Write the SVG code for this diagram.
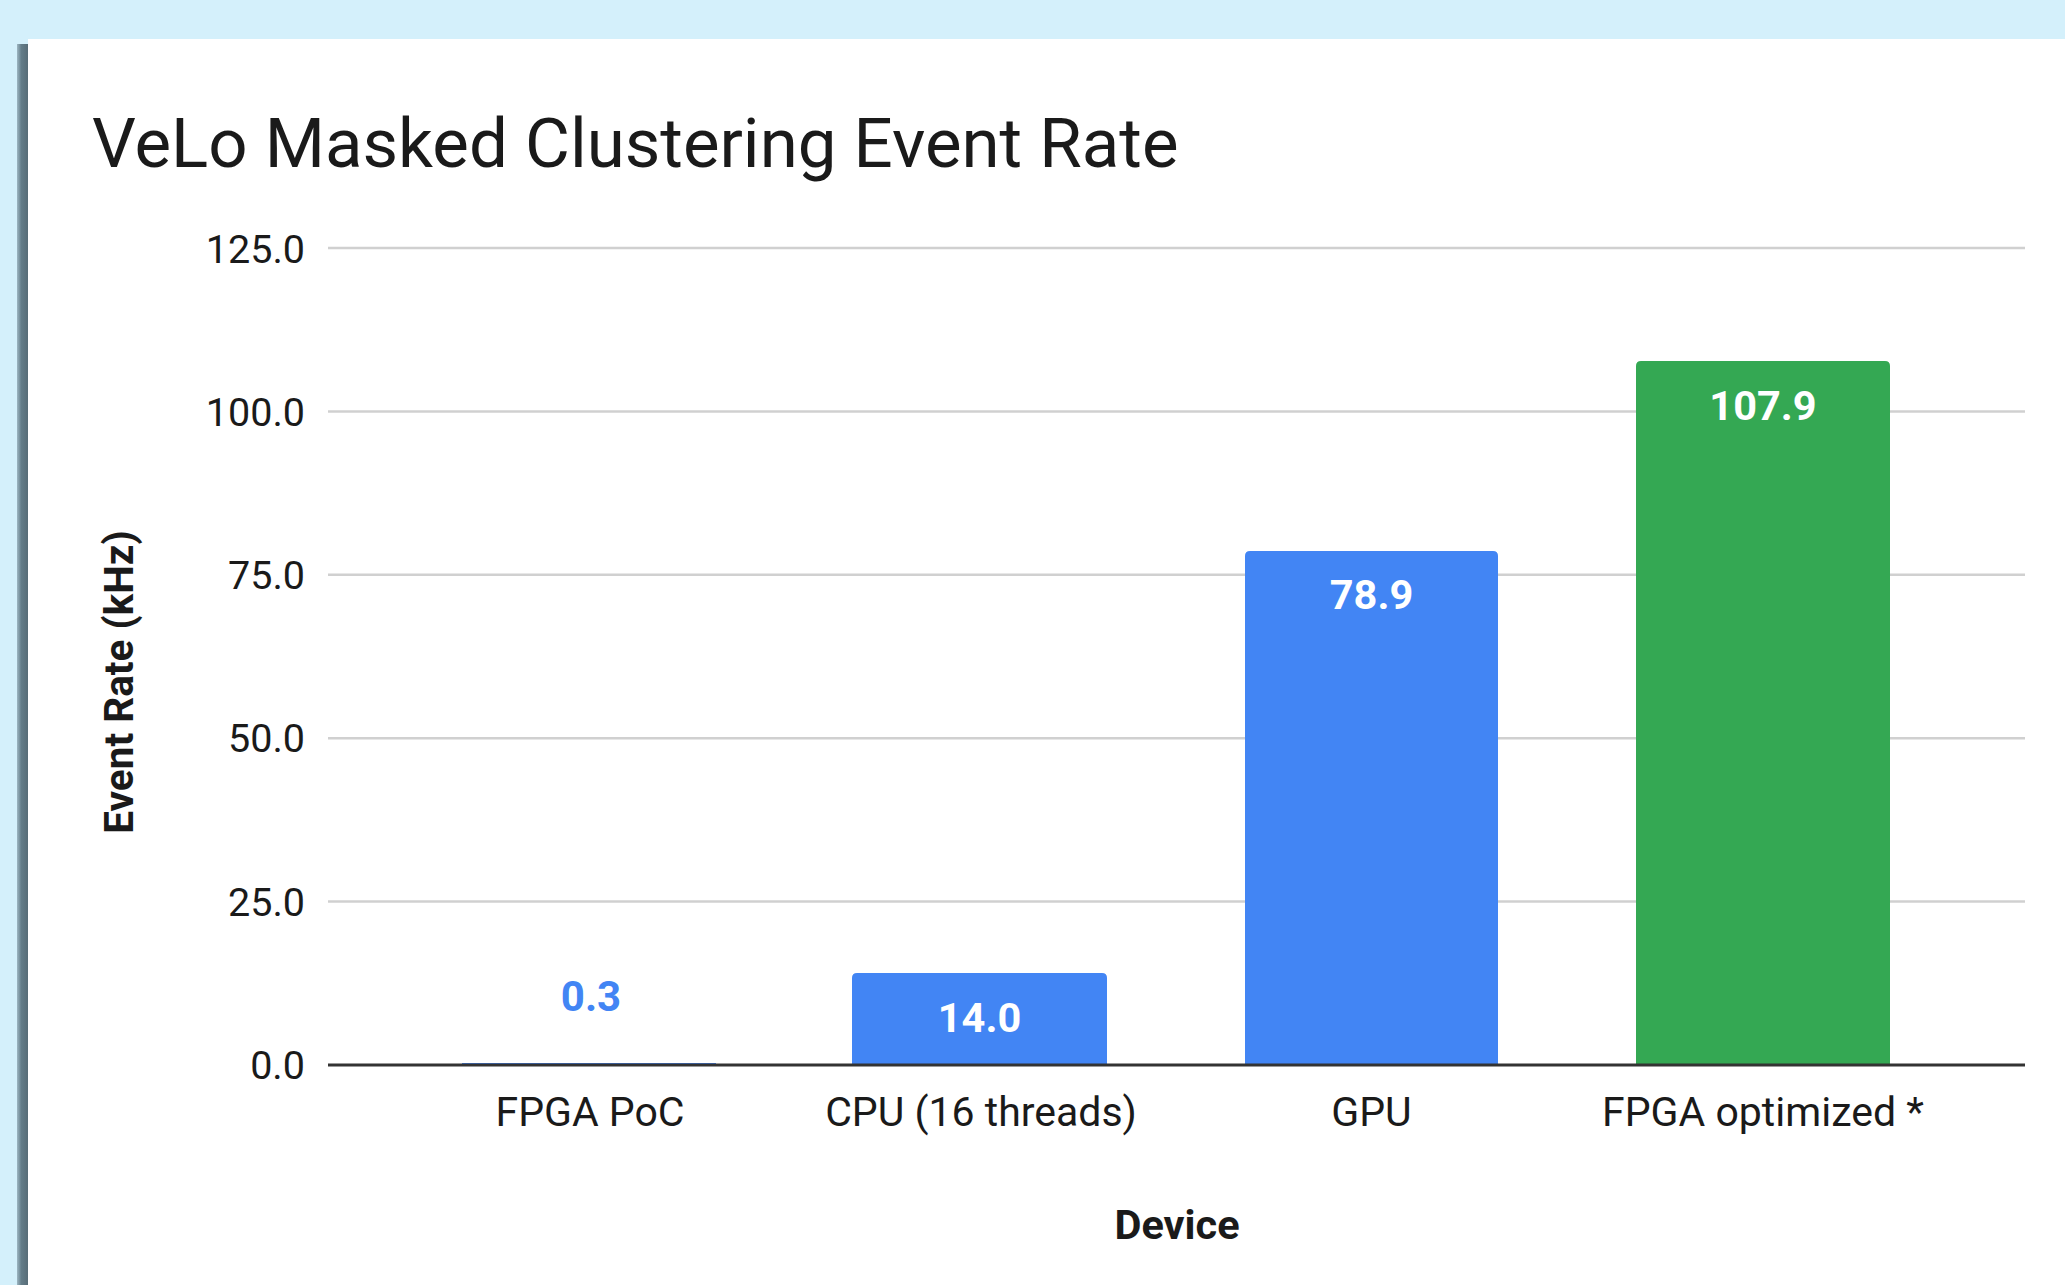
<svg xmlns="http://www.w3.org/2000/svg" width="2065" height="1285" viewBox="0 0 2065 1285">
  <defs>
    <linearGradient id="shadow" x1="0" y1="0" x2="1" y2="0">
      <stop offset="0" stop-color="#9db6c2"/>
      <stop offset="0.35" stop-color="#647d89"/>
      <stop offset="1" stop-color="#566b75"/>
    </linearGradient>
    <style>
      .t { font-family: Roboto, "Liberation Sans", sans-serif; fill: #1a1a1a; }
      .tick { font-size: 39.5px; text-anchor: end; }
      .cat { font-size: 41px; text-anchor: middle; }
      .val { font-size: 41.5px; font-weight: bold; text-anchor: middle; fill: #ffffff; }
      .grid { stroke: #d0d0d0; stroke-width: 2.5; fill: none; }
      .axis { stroke: #333333; stroke-width: 3; fill: none; }
      .blue { fill: #4285f4; }
      .green { fill: #34a853; }
    </style>
  </defs>

  <rect x="0" y="0" width="2065" height="1285" fill="#d4f0fb"/>
  <rect x="17" y="44" width="12" height="1241" fill="url(#shadow)"/>
  <rect x="28" y="39" width="2037" height="1246" fill="#ffffff"/>

  <g id="title">
    <text class="t" x="92" y="167" font-size="69">VeLo Masked Clustering Event Rate</text>
  </g>

  <g id="y-axis">
    <text class="t" transform="translate(133,682) rotate(-90)" font-size="40.5" font-weight="bold" text-anchor="middle">Event Rate (kHz)</text>
    <text class="t tick" x="305" y="263">125.0</text>
    <text class="t tick" x="305" y="426">100.0</text>
    <text class="t tick" x="305" y="589">75.0</text>
    <text class="t tick" x="305" y="752">50.0</text>
    <text class="t tick" x="305" y="916">25.0</text>
    <text class="t tick" x="305" y="1079">0.0</text>
  </g>

  <g id="gridlines">
    <line class="grid" x1="328" y1="248" x2="2025" y2="248"/>
    <line class="grid" x1="328" y1="411.4" x2="2025" y2="411.4"/>
    <line class="grid" x1="328" y1="574.8" x2="2025" y2="574.8"/>
    <line class="grid" x1="328" y1="738.2" x2="2025" y2="738.2"/>
    <line class="grid" x1="328" y1="901.6" x2="2025" y2="901.6"/>
  </g>

  <g id="bar-fpga-poc">
    <rect class="blue" x="462" y="1063" width="254" height="2"/>
    <text class="t val" x="591" y="1011" style="fill:#4285f4;font-size:42px">0.3</text>
    <text class="t cat" x="590" y="1126">FPGA PoC</text>
  </g>

  <g id="bar-cpu">
    <path class="blue" d="M852,1065 V978 Q852,973 857,973 H1102 Q1107,973 1107,978 V1065 Z"/>
    <text class="t val" x="979.5" y="1032">14.0</text>
    <text class="t cat" x="981" y="1126">CPU (16 threads)</text>
  </g>

  <g id="bar-gpu">
    <path class="blue" d="M1245,1065 V556 Q1245,551 1250,551 H1493 Q1498,551 1498,556 V1065 Z"/>
    <text class="t val" x="1371.5" y="609">78.9</text>
    <text class="t cat" x="1371.5" y="1126">GPU</text>
  </g>

  <g id="bar-fpga-optimized">
    <path class="green" d="M1636,1065 V366 Q1636,361 1641,361 H1885 Q1890,361 1890,366 V1065 Z"/>
    <text class="t val" x="1763" y="420">107.9</text>
    <text class="t cat" x="1763" y="1126">FPGA optimized *</text>
  </g>

  <g id="connectors">
    <line class="axis" x1="328" y1="1065" x2="2025" y2="1065"/>
  </g>

  <g id="x-axis-title">
    <text class="t" x="1177" y="1239" font-size="41.5" font-weight="bold" text-anchor="middle">Device</text>
  </g>
</svg>
